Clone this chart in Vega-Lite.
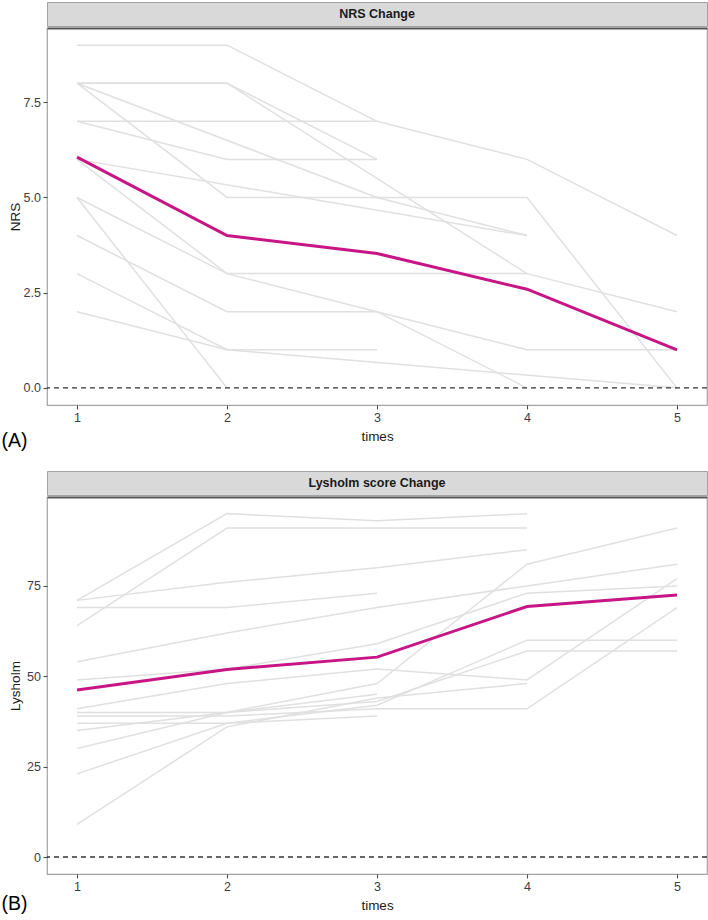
{
  "$schema": "https://vega.github.io/schema/vega-lite/v6.json",
  "padding": {"left": 1, "top": 1, "right": 2, "bottom": 1},
  "background": "white",
  "config": {
    "font": "Liberation Sans",
    "view": {"stroke": "#a3a3a3", "strokeWidth": 1.2},
    "axis": {"grid": false, "domain": false, "labelFont": "Liberation Sans", "labelFontSize": 12.5, "labelColor": "#3d3d3d", "tickColor": "#4d4d4d", "tickSize": 4, "tickWidth": 1.1, "titleFont": "Liberation Sans", "titleFontSize": 13.5, "titleFontWeight": "normal", "titleColor": "#1a1a1a"}
  },
  "datasets": {
    "nrs": [
      {"id": "a1", "t": 1, "v": 9}, {"id": "a1", "t": 2, "v": 9}, {"id": "a1", "t": 3, "v": 7}, {"id": "a1", "t": 4, "v": 6}, {"id": "a1", "t": 5, "v": 4},
      {"id": "a2", "t": 1, "v": 8}, {"id": "a2", "t": 2, "v": 8}, {"id": "a2", "t": 3, "v": 6},
      {"id": "a3", "t": 1, "v": 8}, {"id": "a3", "t": 2, "v": 5}, {"id": "a3", "t": 3, "v": 5}, {"id": "a3", "t": 4, "v": 5}, {"id": "a3", "t": 5, "v": 0},
      {"id": "a4", "t": 1, "v": 8}, {"id": "a4", "t": 3, "v": 5}, {"id": "a4", "t": 4, "v": 4},
      {"id": "a5", "t": 1, "v": 7}, {"id": "a5", "t": 2, "v": 7}, {"id": "a5", "t": 3, "v": 7},
      {"id": "a6", "t": 1, "v": 7}, {"id": "a6", "t": 2, "v": 6}, {"id": "a6", "t": 3, "v": 6},
      {"id": "a7", "t": 1, "v": 6}, {"id": "a7", "t": 4, "v": 4},
      {"id": "a8", "t": 1, "v": 8}, {"id": "a8", "t": 2, "v": 8}, {"id": "a8", "t": 4, "v": 3}, {"id": "a8", "t": 5, "v": 2},
      {"id": "a9", "t": 1, "v": 5}, {"id": "a9", "t": 2, "v": 0},
      {"id": "a10", "t": 1, "v": 5}, {"id": "a10", "t": 2, "v": 3}, {"id": "a10", "t": 3, "v": 3}, {"id": "a10", "t": 4, "v": 3},
      {"id": "a11", "t": 1, "v": 4}, {"id": "a11", "t": 2, "v": 2}, {"id": "a11", "t": 3, "v": 2}, {"id": "a11", "t": 4, "v": 0},
      {"id": "a12", "t": 1, "v": 6}, {"id": "a12", "t": 2, "v": 3}, {"id": "a12", "t": 3, "v": 2}, {"id": "a12", "t": 4, "v": 1}, {"id": "a12", "t": 5, "v": 1},
      {"id": "a13", "t": 1, "v": 3}, {"id": "a13", "t": 2, "v": 1}, {"id": "a13", "t": 3, "v": 1},
      {"id": "a14", "t": 1, "v": 2}, {"id": "a14", "t": 2, "v": 1}, {"id": "a14", "t": 5, "v": 0}
    ],
    "nrs_mean": [
      {"t": 1, "v": 6.06}, {"t": 2, "v": 4.0}, {"t": 3, "v": 3.53}, {"t": 4, "v": 2.59}, {"t": 5, "v": 1.0}
    ],
    "lys": [
      {"id": "b1", "t": 1, "v": 71}, {"id": "b1", "t": 2, "v": 95}, {"id": "b1", "t": 3, "v": 93}, {"id": "b1", "t": 4, "v": 95},
      {"id": "b2", "t": 1, "v": 64}, {"id": "b2", "t": 2, "v": 91}, {"id": "b2", "t": 3, "v": 91}, {"id": "b2", "t": 4, "v": 91},
      {"id": "b3", "t": 1, "v": 71}, {"id": "b3", "t": 2, "v": 76}, {"id": "b3", "t": 3, "v": 80}, {"id": "b3", "t": 4, "v": 85},
      {"id": "b4", "t": 1, "v": 69}, {"id": "b4", "t": 2, "v": 69}, {"id": "b4", "t": 3, "v": 73},
      {"id": "b5", "t": 1, "v": 54}, {"id": "b5", "t": 2, "v": 62}, {"id": "b5", "t": 3, "v": 69}, {"id": "b5", "t": 4, "v": 75}, {"id": "b5", "t": 5, "v": 81},
      {"id": "b6", "t": 1, "v": 49}, {"id": "b6", "t": 2, "v": 52}, {"id": "b6", "t": 3, "v": 59}, {"id": "b6", "t": 4, "v": 73}, {"id": "b6", "t": 5, "v": 75},
      {"id": "b7", "t": 1, "v": 41}, {"id": "b7", "t": 2, "v": 48}, {"id": "b7", "t": 3, "v": 52}, {"id": "b7", "t": 4, "v": 49}, {"id": "b7", "t": 5, "v": 77},
      {"id": "b8", "t": 1, "v": 40}, {"id": "b8", "t": 2, "v": 40}, {"id": "b8", "t": 3, "v": 43}, {"id": "b8", "t": 4, "v": 57}, {"id": "b8", "t": 5, "v": 57},
      {"id": "b9", "t": 1, "v": 39}, {"id": "b9", "t": 2, "v": 39}, {"id": "b9", "t": 3, "v": 41}, {"id": "b9", "t": 4, "v": 41}, {"id": "b9", "t": 5, "v": 69},
      {"id": "b10", "t": 1, "v": 37}, {"id": "b10", "t": 2, "v": 37}, {"id": "b10", "t": 3, "v": 39},
      {"id": "b11", "t": 1, "v": 35}, {"id": "b11", "t": 2, "v": 40}, {"id": "b11", "t": 3, "v": 45},
      {"id": "b12", "t": 1, "v": 30}, {"id": "b12", "t": 2, "v": 40}, {"id": "b12", "t": 3, "v": 48}, {"id": "b12", "t": 4, "v": 81}, {"id": "b12", "t": 5, "v": 91},
      {"id": "b13", "t": 1, "v": 23}, {"id": "b13", "t": 2, "v": 37}, {"id": "b13", "t": 3, "v": 42}, {"id": "b13", "t": 4, "v": 60}, {"id": "b13", "t": 5, "v": 60},
      {"id": "b14", "t": 1, "v": 9}, {"id": "b14", "t": 2, "v": 36}, {"id": "b14", "t": 3, "v": 44}, {"id": "b14", "t": 4, "v": 48}
    ],
    "lys_mean": [
      {"t": 1, "v": 46.2}, {"t": 2, "v": 51.9}, {"t": 3, "v": 55.3}, {"t": 4, "v": 69.3}, {"t": 5, "v": 72.5}
    ],
    "zero": [{"v": 0}]
  },
  "spacing": 19,
  "vconcat": [
    {
      "title": {"text": "(A)", "orient": "bottom", "anchor": "start", "fontSize": 19.5, "fontWeight": "normal", "font": "Liberation Sans", "color": "#000000", "baseline": "alphabetic", "offset": 4, "dx": -6},
      "spacing": 0,
      "vconcat": [
        {
          "width": 660, "height": 24,
          "view": {"fill": "#d9d9d9", "stroke": "#a3a3a3"},
          "data": {"values": [{"label": "NRS Change"}]},
          "mark": {"type": "text", "fontSize": 12.5, "fontWeight": "bold", "color": "#1a1a1a", "font": "Liberation Sans"},
          "encoding": {"text": {"field": "label"}}
        },
        {
          "width": 660, "height": 377,
          "resolve": {"axis": {"x": "independent"}},
          "layer": [
            {
              "data": {"name": "nrs"},
              "mark": {"type": "line", "color": "#e0e0e0", "strokeWidth": 1.5},
              "encoding": {
                "x": {"field": "t", "type": "quantitative", "scale": {"domain": [0.8, 5.2], "nice": false, "zero": false},
                      "axis": {"orient": "top", "domain": true, "domainColor": "#595959", "domainWidth": 2, "ticks": false, "labels": false, "title": null}},
                "y": {"field": "v", "type": "quantitative", "title": "NRS", "scale": {"domain": [-0.45, 9.45], "nice": false, "zero": false},
                      "axis": {"values": [0, 2.5, 5, 7.5], "format": ".1f", "labelPadding": 2.5, "titleX": -28, "titleBaseline": "alphabetic"}},
                "detail": {"field": "id"}
              }
            },
            {
              "data": {"name": "nrs_mean"},
              "mark": {"type": "line", "color": "#C71585", "strokeWidth": 3},
              "encoding": {
                "x": {"field": "t", "type": "quantitative", "title": "times",
                      "axis": {"orient": "bottom", "values": [1, 2, 3, 4, 5], "format": "d", "labelPadding": 2.5, "titleY": 35, "titleBaseline": "alphabetic"}},
                "y": {"field": "v", "type": "quantitative", "title": "NRS",
                      "axis": {"values": [0, 2.5, 5, 7.5], "format": ".1f", "labelPadding": 2.5, "titleX": -28, "titleBaseline": "alphabetic"}}
              }
            },
            {
              "data": {"name": "zero"},
              "mark": {"type": "rule", "color": "#333333", "strokeWidth": 1.3, "strokeDash": [5, 4]},
              "encoding": {"y": {"field": "v", "type": "quantitative", "title": "NRS",
                      "axis": {"values": [0, 2.5, 5, 7.5], "format": ".1f", "labelPadding": 2.5, "titleX": -28, "titleBaseline": "alphabetic"}}}
            }
          ]
        }
      ]
    },
    {
      "title": {"text": "(B)", "orient": "bottom", "anchor": "start", "fontSize": 19.5, "fontWeight": "normal", "font": "Liberation Sans", "color": "#000000", "baseline": "alphabetic", "offset": -2, "dx": -6},
      "spacing": 0,
      "vconcat": [
        {
          "width": 660, "height": 24,
          "view": {"fill": "#d9d9d9", "stroke": "#a3a3a3"},
          "data": {"values": [{"label": "Lysholm score Change"}]},
          "mark": {"type": "text", "fontSize": 12.5, "fontWeight": "bold", "color": "#1a1a1a", "font": "Liberation Sans"},
          "encoding": {"text": {"field": "label"}}
        },
        {
          "width": 660, "height": 377,
          "resolve": {"axis": {"x": "independent"}},
          "layer": [
            {
              "data": {"name": "lys"},
              "mark": {"type": "line", "color": "#e0e0e0", "strokeWidth": 1.5},
              "encoding": {
                "x": {"field": "t", "type": "quantitative", "scale": {"domain": [0.8, 5.2], "nice": false, "zero": false},
                      "axis": {"orient": "top", "domain": true, "domainColor": "#595959", "domainWidth": 2, "ticks": false, "labels": false, "title": null}},
                "y": {"field": "v", "type": "quantitative", "title": "Lysholm", "scale": {"domain": [-4.7, 99.6], "nice": false, "zero": false},
                      "axis": {"values": [0, 25, 50, 75], "format": "d", "labelPadding": 2.5, "titleX": -28, "titleBaseline": "alphabetic"}},
                "detail": {"field": "id"}
              }
            },
            {
              "data": {"name": "lys_mean"},
              "mark": {"type": "line", "color": "#C71585", "strokeWidth": 3},
              "encoding": {
                "x": {"field": "t", "type": "quantitative", "title": "times",
                      "axis": {"orient": "bottom", "values": [1, 2, 3, 4, 5], "format": "d", "labelPadding": 2.5, "titleY": 35, "titleBaseline": "alphabetic"}},
                "y": {"field": "v", "type": "quantitative", "title": "Lysholm",
                      "axis": {"values": [0, 25, 50, 75], "format": "d", "labelPadding": 2.5, "titleX": -28, "titleBaseline": "alphabetic"}}
              }
            },
            {
              "data": {"name": "zero"},
              "mark": {"type": "rule", "color": "#333333", "strokeWidth": 1.3, "strokeDash": [5, 4]},
              "encoding": {"y": {"field": "v", "type": "quantitative", "title": "Lysholm",
                      "axis": {"values": [0, 25, 50, 75], "format": "d", "labelPadding": 2.5, "titleX": -28, "titleBaseline": "alphabetic"}}}
            }
          ]
        }
      ]
    }
  ]
}
